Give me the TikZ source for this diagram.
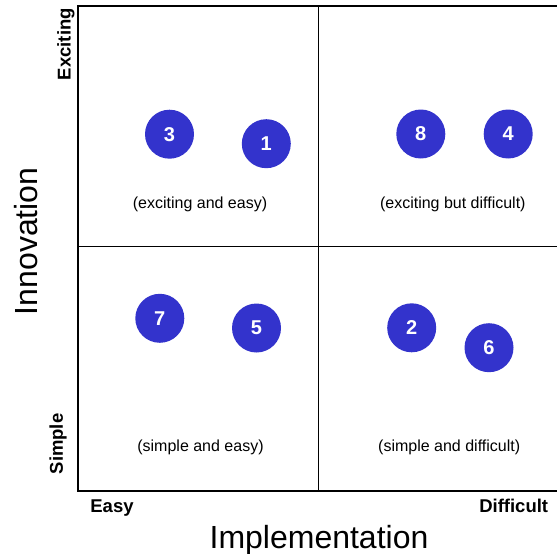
\documentclass[tikz,border=0pt]{standalone}
\usepackage{fontspec}
\setmainfont{Liberation Sans}
\definecolor{ideablue}{RGB}{51,51,204}

\begin{document}
\begin{tikzpicture}[x=1pt,y=1pt,yscale=-1,xscale=1,
  idea/.style={circle,fill=ideablue,draw=none,minimum size=49pt,inner sep=0pt,text=white,font=\fontsize{20}{20}\selectfont\bfseries},
  quadlabel/.style={anchor=base,inner sep=0pt,font=\fontsize{16}{16}\selectfont},
  endlabel/.style={anchor=base,inner sep=0pt,font=\fontsize{18.5}{18.5}\selectfont\bfseries},
  axislabel/.style={anchor=base,inner sep=0pt,font=\fontsize{32}{32}\selectfont}]
\useasboundingbox (0,0) rectangle (557,554);

% frame and quadrants
\coordinate (tl) at (78,6);
\coordinate (bl) at (78,491);
\coordinate (tr) at (557,6);
\coordinate (br) at (557,491);
\coordinate (midtop) at (318,6);
\coordinate (midbot) at (318,491);
\coordinate (midleft) at (78,246.5);
\coordinate (midright) at (557,246.5);

\draw [line width=1]   (midtop) -- (midbot) ;
\draw [line width=1]   (midleft) -- (midright) ;
\draw [line width=2]   (tr) -- (tl) -- (bl) -- (br) ;

% ideas
\node [idea] (i3) at (169.5,134.2) {3};
\node [idea] (i1) at (266.3,143.7) {1};
\node [idea] (i8) at (420.8,134) {8};
\node [idea] (i4) at (508.2,134) {4};
\node [idea] (i7) at (159.8,318.3) {7};
\node [idea] (i5) at (256.5,328) {5};
\node [idea] (i2) at (411.7,327.8) {2};
\node [idea] (i6) at (489,347.7) {6};

% quadrant labels
\node [quadlabel] (excitingeasy) at (200,208.3) {(exciting and easy)};
\node [quadlabel] (excitingdifficult) at (452.8,208.3) {(exciting but difficult)};
\node [quadlabel] (simpleeasy) at (200.5,451.6) {(simple and easy)};
\node [quadlabel] (simpledifficult) at (449.2,451.6) {(simple and difficult)};

% axes
\node [endlabel,rotate=90] (exciting) at (70.6,44.2) {Exciting};
\node [endlabel,rotate=90] (simple) at (62.8,444) {Simple};
\node [endlabel] (easy) at (112,512.8) {Easy};
\node [endlabel] (difficult) at (513.7,512) {Difficult};
\node [axislabel,rotate=90] (innovation) at (37.5,241.3) {Innovation};
\node [axislabel] (implementation) at (319,548.3) {Implementation};

\end{tikzpicture}
\end{document}
